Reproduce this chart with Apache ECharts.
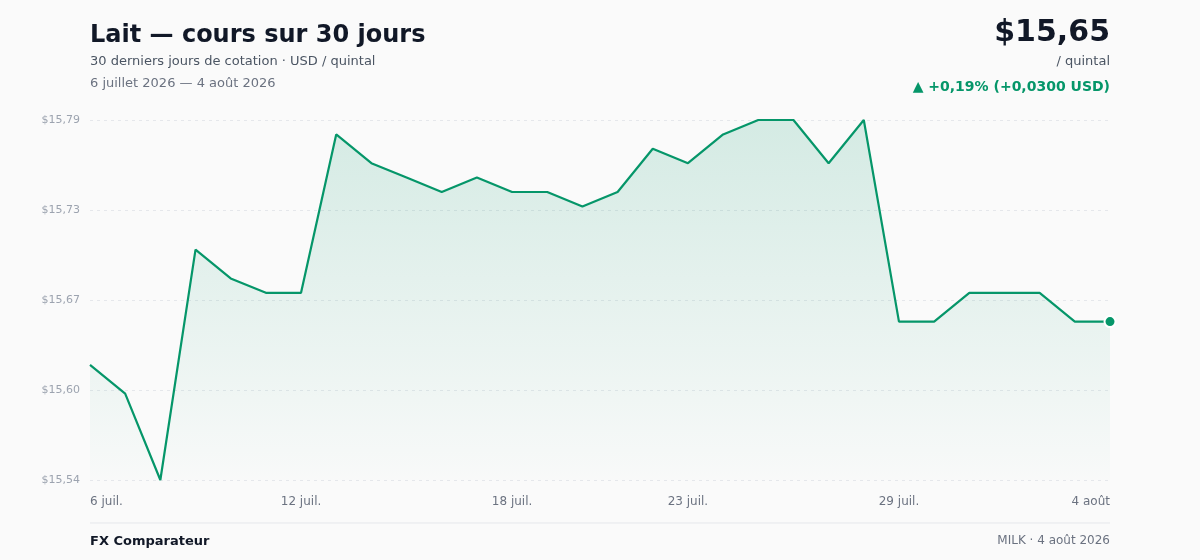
<!DOCTYPE html>
<html>
<head>
<meta charset="utf-8">
<script src="https://cdn.jsdelivr.net/npm/echarts@6/dist/echarts.min.js"></script>
<style>
  html, body { margin: 0; padding: 0; background: #fafafa; }
  #main { width: 1200px; height: 560px; }
</style>
</head>
<body>
<div id="main"></div>
<script type="text/javascript">
    // données
    var days = ['6 juil.', '7 juil.', '8 juil.', '9 juil.', '10 juil.', '11 juil.', '12 juil.', '13 juil.',
        '14 juil.', '15 juil.', '16 juil.', '17 juil.', '18 juil.', '19 juil.', '20 juil.', '21 juil.',
        '22 juil.', '23 juil.', '24 juil.', '25 juil.', '26 juil.', '27 juil.', '28 juil.', '29 juil.',
        '30 juil.', '31 juil.', '1 août', '2 août', '3 août', '4 août'];
    var prices = [15.62, 15.60, 15.54, 15.70, 15.68, 15.67, 15.67, 15.78,
        15.76, 15.75, 15.74, 15.75, 15.74, 15.74, 15.73, 15.74,
        15.77, 15.76, 15.78, 15.79, 15.79, 15.76, 15.79, 15.65,
        15.65, 15.67, 15.67, 15.67, 15.65, 15.65];
    var shownDays = ['6 juil.', '12 juil.', '18 juil.', '23 juil.', '29 juil.', '4 août'];
    var yTicks = [15.54, 15.6025, 15.665, 15.7275, 15.79];
    var yTickLabels = ['$15,54', '$15,60', '$15,67', '$15,73', '$15,79'];

    var green = '#059669';
    var font = 'DejaVu Sans';
    var lastIdx = prices.length - 1;

    function txt(text, pos, top, size, weight, color) {
        var t = { text: text, top: top, padding: 0,
            textStyle: { fontSize: size, fontWeight: weight, color: color, fontFamily: font } };
        if (pos === 'left') t.left = 90; else t.right = 90;
        return t;
    }

    var myChart = echarts.init(document.getElementById('main'));
    var option = {
        backgroundColor: '#fafafa',
        textStyle: { fontFamily: font },
        animation: false,
        title: [
            txt('Lait — cours sur 30 jours', 'left', 24, 24, 'bold', '#111827'),
            txt('30 derniers jours de cotation · USD / quintal', 'left', 55, 13, 'normal', '#4b5563'),
            txt('6 juillet 2026 — 4 août 2026', 'left', 77, 13, 'normal', '#6b7280'),
            txt('$15,65', 'right', 18, 30, 'bold', '#111827'),
            txt('/ quintal', 'right', 55, 13, 'normal', '#4b5563'),
            txt('▲ +0,19% (+0,0300 USD)', 'right', 80, 14, 'bold', green),
            txt('FX Comparateur', 'left', 535, 13, 'bold', '#111827'),
            txt('MILK · 4 août 2026', 'right', 535, 12, 'normal', '#6b7280')
        ],
        graphic: [
            { type: 'line', shape: { x1: 90, y1: 523, x2: 1110, y2: 523 },
              style: { stroke: '#e5e7eb', lineWidth: 1 } }
        ],
        grid: { left: 90, right: 90, top: 120, bottom: 80 },
        xAxis: {
            type: 'category',
            data: days,
            boundaryGap: false,
            axisLine: { show: false },
            axisTick: { show: false },
            axisLabel: {
                color: '#6b7280',
                fontSize: 12,
                margin: 16,
                interval: function (idx, val) { return shownDays.indexOf(val) >= 0; },
                alignMinLabel: 'left',
                alignMaxLabel: 'right'
            },
            splitLine: { show: false }
        },
        yAxis: {
            type: 'value',
            min: 15.54,
            max: 15.79,
            axisLine: { show: false },
            axisTick: { show: false, customValues: yTicks },
            axisLabel: {
                color: '#9ca3af',
                fontSize: 11,
                margin: 10,
                customValues: yTicks,
                formatter: function (v) {
                    for (var i = 0; i < yTicks.length; i++) {
                        if (Math.abs(yTicks[i] - v) < 1e-6) return yTickLabels[i];
                    }
                    return '';
                }
            },
            splitLine: { show: true, lineStyle: { color: '#e5e7eb', type: [3, 4], width: 1 } }
        },
        series: [{
            type: 'line',
            data: prices,
            symbol: 'none',
            lineStyle: { color: green, width: 2.2 },
            areaStyle: {
                color: new echarts.graphic.LinearGradient(0, 0, 0, 1, [
                    { offset: 0, color: 'rgba(5,150,105,0.22)' },
                    { offset: 1, color: 'rgba(5,150,105,0.01)' }
                ])
            },
            markPoint: {
                symbol: 'circle',
                symbolSize: 11,
                label: { show: false },
                itemStyle: { color: green, borderColor: '#ffffff', borderWidth: 2 },
                data: [{ coord: [lastIdx, prices[lastIdx]] }]
            }
        }]
    };
    myChart.setOption(option);
</script>
</body>
</html>
